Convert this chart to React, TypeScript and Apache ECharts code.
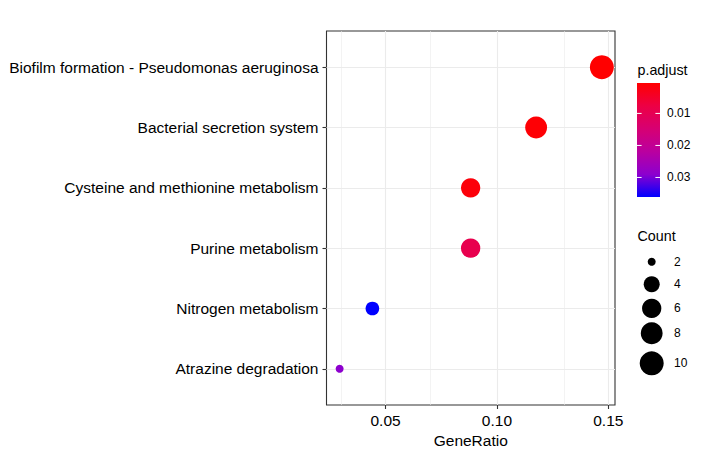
import React, { useEffect, useRef } from "react";
import * as echarts from "echarts";

// ---- data (bottom row first) ----
const categories = [
  "Atrazine degradation",
  "Nitrogen metabolism",
  "Purine metabolism",
  "Cysteine and methionine metabolism",
  "Bacterial secretion system",
  "Biofilm formation - Pseudomonas aeruginosa",
];
const geneRatio = [0.0294, 0.0441, 0.0882, 0.0882, 0.1176, 0.1471];
const counts = [2, 3, 6, 6, 8, 10];
const pAdjust = [0.029, 0.0361, 0.0092, 0.0015, 0.001, 0.0005];
const xTicks = [0.05, 0.1, 0.15];
const xMinorTicks = [0.025, 0.075, 0.125];
const pTicks = [0.01, 0.02, 0.03];
const countBreaks = [2, 4, 6, 8, 10];

// ---- styling ----
const FONT = "'Liberation Sans', Arial, Helvetica, sans-serif";
// red -> blue gradient (approximating Lab interpolation)
const gradColors = ["#FF0000", "#ED0044", "#D70072", "#BA009F", "#8D00CE", "#0000FF"];
const countKeyY = [261.7, 284.3, 308.3, 333.3, 363.3];

const cMin = Math.min(...countBreaks);
const cMax = Math.max(...countBreaks);
const sizeOf = (c: number) => 8 + 16 * Math.sqrt(Math.max(0, (c - cMin) / (cMax - cMin)));

export default function App() {
  const ref = useRef<HTMLDivElement>(null);
  useEffect(() => {
    if (!ref.current) return;
    const chart = echarts.init(ref.current, null, { renderer: "svg" });
    const pMin = Math.min(...pAdjust);
    const pMax = Math.max(...pAdjust);

    const barX = 637, barY = 83, barW = 23, barH = 114;
    const graphic: any[] = [];
    graphic.push({
      type: "text", x: 637.5, y: 70,
      style: { text: "p.adjust", fontSize: 14.3, fontFamily: FONT, fill: "#000", align: "left", verticalAlign: "middle" },
    });
    graphic.push({
      type: "rect",
      shape: { x: barX, y: barY, width: barW, height: barH },
      style: {
        fill: {
          type: "linear", x: 0, y: 0, x2: 0, y2: 1,
          colorStops: gradColors.map((c, i) => ({ offset: i / (gradColors.length - 1), color: c })),
        },
      },
    });
    pTicks.forEach((p) => {
      const y = barY + ((p - pMin) / (pMax - pMin)) * barH;
      graphic.push({ type: "line", shape: { x1: barX, y1: y, x2: barX + 4.6, y2: y }, style: { stroke: "#fff", lineWidth: 1 } });
      graphic.push({ type: "line", shape: { x1: barX + barW - 4.6, y1: y, x2: barX + barW, y2: y }, style: { stroke: "#fff", lineWidth: 1 } });
      graphic.push({
        type: "text", x: 667, y,
        style: { text: p.toFixed(2), fontSize: 12, fontFamily: FONT, fill: "#000", align: "left", verticalAlign: "middle" },
      });
    });
    graphic.push({
      type: "text", x: 637.5, y: 236,
      style: { text: "Count", fontSize: 14.3, fontFamily: FONT, fill: "#000", align: "left", verticalAlign: "middle" },
    });
    countBreaks.forEach((c, i) => {
      graphic.push({ type: "circle", shape: { cx: 651.7, cy: countKeyY[i], r: sizeOf(c) / 2 }, style: { fill: "#000" } });
      graphic.push({
        type: "text", x: 674, y: countKeyY[i],
        style: { text: String(c), fontSize: 12, fontFamily: FONT, fill: "#000", align: "left", verticalAlign: "middle" },
      });
    });

    const major = { color: "#EBEBEB", width: 1.1, type: "solid" };
    const minor = { color: "#EBEBEB", width: 0.6, type: "solid" };

    chart.setOption({
      animation: false,
      backgroundColor: "#ffffff",
      textStyle: { fontFamily: FONT },
      grid: { left: 326.5, top: 31, width: 288.5, height: 374, show: true, borderColor: "#333333", borderWidth: 1.1, backgroundColor: "#fff" },
      xAxis: {
        type: "value", min: 0.0235, max: 0.153,
        axisLine: { show: false, onZero: false },
        splitLine: { show: false },
        axisTick: { show: true, customValues: xTicks, length: 4, lineStyle: { color: "#333333", width: 1.1 } },
        axisLabel: { customValues: xTicks, formatter: (v: number) => v.toFixed(2), fontSize: 15.5, color: "#000", margin: 7, fontFamily: FONT },
        name: "GeneRatio", nameLocation: "middle", nameGap: 26,
        nameTextStyle: { fontSize: 15.5, color: "#000", fontFamily: FONT },
      },
      yAxis: {
        type: "value", min: -0.6, max: categories.length - 0.4,
        axisLine: { show: false, onZero: false },
        splitLine: { show: false },
        axisTick: { show: true, customValues: categories.map((_, i) => i), length: 4, lineStyle: { color: "#333333", width: 1.1 } },
        axisLabel: {
          customValues: categories.map((_, i) => i),
          formatter: (v: number) => categories[Math.round(v)] ?? "",
          fontSize: 15.5, color: "#000", margin: 8, fontFamily: FONT,
        },
      },
      visualMap: [{
        type: "continuous", show: false, dimension: 3, seriesIndex: 1,
        min: pMin, max: pMax, inRange: { color: gradColors },
      }],
      series: [
        {
          type: "line", data: [], z: 1, silent: true,
          markLine: {
            silent: true, symbol: ["none", "none"], label: { show: false }, animation: false,
            emphasis: { disabled: true },
            data: [
              ...xMinorTicks.map((v) => ({ xAxis: v, lineStyle: minor })),
              ...xTicks.map((v) => ({ xAxis: v, lineStyle: major })),
              ...categories.map((_, i) => ({ yAxis: i, lineStyle: major })),
            ],
          },
        },
        {
          type: "scatter", z: 5,
          data: categories.map((_, i) => [geneRatio[i], i, counts[i], pAdjust[i]]),
          symbolSize: (v: number[]) => sizeOf(v[2]),
          itemStyle: { opacity: 1 },
        },
      ],
      graphic,
    });
    return () => chart.dispose();
  }, []);
  return <div ref={ref} style={{ position: "fixed", left: 0, top: 0, width: 706, height: 455 }} />;
}
